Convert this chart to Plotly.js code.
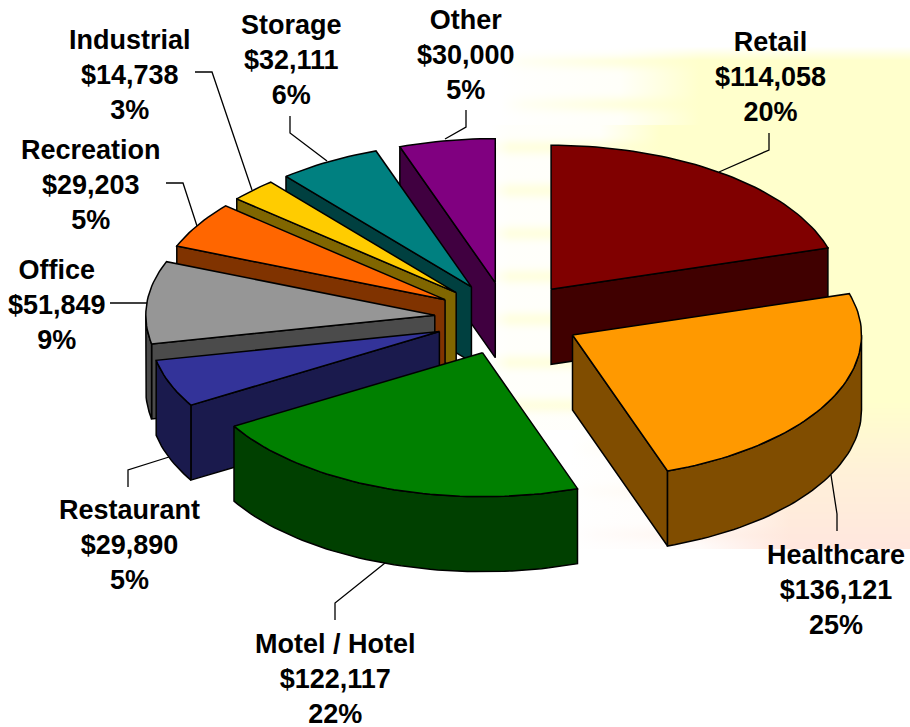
<!DOCTYPE html>
<html>
<head>
<meta charset="utf-8">
<script src="https://cdn.plot.ly/plotly-3.0.1.min.js"></script>
<style>html,body{margin:0;padding:0;background:#fff}#chart{width:910px;height:727px}</style>
</head>
<body>
<div id="chart"></div>
<script>
// ---- data ----
const categories = ['Retail','Healthcare','Motel / Hotel','Restaurant','Office','Recreation','Industrial','Storage','Other'];
const amounts    = [114058,136121,122117,29890,51849,29203,14738,32111,30000];
const percents   = [20,25,22,5,9,5,3,6,5];
// ---- styles ----
const topColors  = ['#800000','#FF9900','#008000','#333399','#969696','#FF6600','#FFCC00','#008080','#800080'];
const sideColors = ['#400000','#804D00','#004000','#1A1A4D','#4B4B4B','#803300','#806600','#004040','#400040'];
const paintOrder = [8,7,6,5,4,3,0,1,2];
// ---- projection of the tilted pie ----
const geo = {cx:507.5, cy:318.5, rx:289, ry:144, depth:75, pull:73};
// ---- label and leader placement ----
const labelX = [770,836,335,129,57,91,130,291,466];
const labelY = [77,590,679,545,305,185,75,60,55];
const leaderX = [[719,769,769],[831,837,837],[385,335,335],[169,128,128],[110,147],[166,183,197],[195,212,252],[290,290,327],[445,466,466]];
const leaderY = [[172,150,133],[475,514,531],[563,603,620],[457,470,487],[303,303],[183,183,226],[72,72,190],[116,133,161],[139,127,110]];

const total = amounts.reduce((a,b)=>a+b,0);
const rad = d => d*Math.PI/180;
let acc = 0;
const slices = amounts.map(v=>{const a0=acc; acc+=v/total*360; return {a0, a1:acc};});

function arc(a0,a1,ax,ay,dz){
  const pts=[]; const n=Math.max(2,Math.ceil((a1-a0)/1.5));
  for(let i=0;i<=n;i++){const t=rad(a0+(a1-a0)*i/n);
    pts.push([ax+geo.rx*Math.sin(t), ay-geo.ry*Math.cos(t)+dz]);}
  return pts;
}
function poly(pts,fill){
  const xs=pts.map(p=>p[0]).concat(pts[0][0]), ys=pts.map(p=>p[1]).concat(pts[0][1]);
  return {type:'scatter',mode:'lines',x:xs,y:ys,fill:'toself',fillcolor:fill,
          line:{color:'#000',width:1.5,shape:'linear'},hoverinfo:'skip',showlegend:false};
}
const traces=[];
paintOrder.forEach(i=>{
  const s=slices[i], mid=rad((s.a0+s.a1)/2);
  const ax=geo.cx+geo.pull*Math.sin(mid), ay=geo.cy-geo.pull*(geo.ry/geo.rx)*Math.cos(mid);
  const d=geo.depth, side=sideColors[i];
  const edge=(a)=>{const t=rad(a),x=ax+geo.rx*Math.sin(t),y=ay-geo.ry*Math.cos(t);
    return poly([[ax,ay],[x,y],[x,y+d],[ax,ay+d]],side);};
  if(Math.sin(rad(s.a0))<-1e-6) traces.push(edge(s.a0));
  if(Math.sin(rad(s.a1))>1e-6) traces.push(edge(s.a1));
  const w0=Math.max(s.a0,90), w1=Math.min(s.a1,270);
  if(w1>w0){ traces.push(poly(arc(w0,w1,ax,ay,0).concat(arc(w0,w1,ax,ay,d).reverse()),side)); }
  traces.push(poly([[ax,ay]].concat(arc(s.a0,s.a1,ax,ay,0)),topColors[i]));
});
categories.forEach((c,i)=>{
  traces.push({type:'scatter',mode:'lines',x:leaderX[i],y:leaderY[i],
    line:{color:'#000',width:1.3},hoverinfo:'skip',showlegend:false});
});
const fmt = v => '$'+v.toLocaleString('en-US');
const annotations = categories.map((c,i)=>({
  x:labelX[i],y:labelY[i],xref:'x',yref:'y',showarrow:false,xanchor:'center',yanchor:'middle',align:'center',
  text:'<b>'+c+'<br>'+fmt(amounts[i])+'<br>'+percents[i]+'%</b>',
  font:{family:'Liberation Sans, Arial, sans-serif',size:27,color:'#000'}
}));

// ---- streaked backdrop, drawn row by row ----
function backdrop(){
  const W=910,H=727,cv=document.createElement('canvas');cv.width=W;cv.height=H;
  const g=cv.getContext('2d');
  g.fillStyle='#fff';g.fillRect(0,0,W,H);
  const tint=y=>{
    if(y<400) return [255,255,204];
    if(y<470){const k=(y-400)/70;return [255,255-k*14,204+k*12];}
    const k=Math.min(1,(y-470)/75);return [255,241-k*10,216+k*6];
  };
  for(let y=46;y<549;y++){
    const s=Math.pow(0.5+0.5*Math.cos(2*Math.PI*(y-147)/43),3);
    const fade=Math.min(1,(y-46)/14);
    let start,mid,reach,midA,lead;
    if(y<125){start=500;mid=620;reach=700;midA=0.12+0.5*s;lead=0.35;}
    else if(y<430){start=490;mid=600;reach=660;midA=0.1+0.55*s;lead=0.85;}
    else {start=570;mid=700;reach=790;midA=0.15+0.3*s;lead=0.3;}
    const c=tint(y), lg=g.createLinearGradient(start,0,reach,0);
    const col=a=>`rgba(${c[0]},${c[1]},${c[2]},${a*fade})`;
    lg.addColorStop(0,col(0));
    lg.addColorStop(0.12,col(midA*lead));
    lg.addColorStop((mid-start)/(reach-start),col(midA));
    lg.addColorStop(1,col(1));
    g.fillStyle=lg;
    g.fillRect(start,y,W-start,1);
  }
  return cv.toDataURL('image/png');
}

const layout={
  width:910,height:727,margin:{l:0,r:0,t:0,b:0},
  paper_bgcolor:'#fff',plot_bgcolor:'rgba(0,0,0,0)',showlegend:false,
  xaxis:{range:[0,910],visible:false,fixedrange:true},
  yaxis:{range:[727,0],visible:false,fixedrange:true},
  images:[{source:backdrop(),xref:'x',yref:'y',x:0,y:0,sizex:910,sizey:727,sizing:'stretch',xanchor:'left',yanchor:'top',layer:'below'}],
  annotations
};
Plotly.newPlot('chart',traces,layout,{displayModeBar:false,staticPlot:true});
</script>
</body>
</html>
